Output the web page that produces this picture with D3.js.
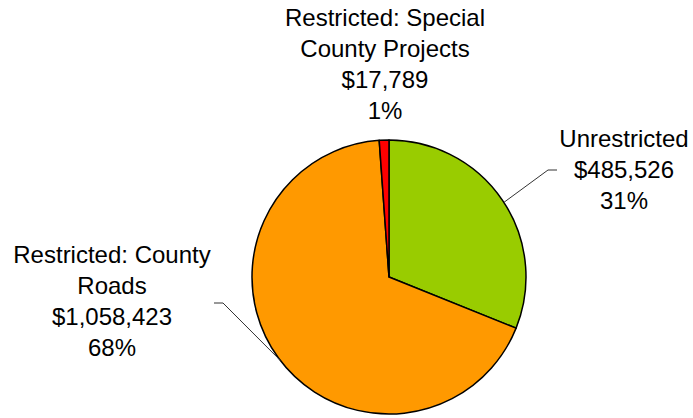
<!DOCTYPE html>
<html>
<head>
<meta charset="utf-8">
<script src="https://cdn.jsdelivr.net/npm/d3@7"></script>
<style>
  html, body { margin: 0; padding: 0; background: #fff; }
  svg text { font-family: "Liberation Sans", Arial, sans-serif; font-size: 24px; fill: #000; }
</style>
</head>
<body>
<svg id="chart" width="693" height="418"></svg>
<script>
// Fund sources, drawn clockwise from 12 o'clock
const categories = ["Unrestricted", "Restricted: County Roads", "Restricted: Special County Projects"];
const values = [485526, 1058423, 17789];
const colors = ["#99cc00", "#ff9900", "#ff0000"];
// Label text lines for each slice (name split across lines)
const labelNames = [["Unrestricted"], ["Restricted: County", "Roads"], ["Restricted: Special", "County Projects"]];

const svg = d3.select("#chart");
const cx = 389, cy = 277, r = 137;

const total = d3.sum(values);
const pie = d3.pie().sort(null).value(d => d)(values);
const arc = d3.arc().innerRadius(0).outerRadius(r);

const g = svg.append("g").attr("transform", `translate(${cx},${cy})`);
g.selectAll("path.slice")
  .data(pie)
  .join("path")
  .attr("class", "slice")
  .attr("d", arc)
  .attr("fill", (d, i) => colors[i])
  .attr("stroke", "#000")
  .attr("stroke-width", 1.5)
  .attr("stroke-linejoin", "round");

const fmt = d3.format("$,");
const pct = v => Math.round(v / total * 100) + "%";

// Label positions (centre x, first baseline); leaders start on the rim at
// `rim` degrees clockwise from 12 o'clock, bend at `elbow`, end at `end`
const labelPos = [
  { x: 624, y: 147, rim: 57, elbow: [548, 170], end: [557, 170] },
  { x: 112, y: 263, rim: 232.5, elbow: [223, 303], end: [214, 303] },
  { x: 385, y: 26, rim: null }
];
const lineH = 31;

pie.forEach((d, i) => {
  const p = labelPos[i];
  const lines = labelNames[i].concat([fmt(values[i]), pct(values[i])]);
  const t = svg.append("text").attr("text-anchor", "middle");
  lines.forEach((s, k) => {
    t.append("tspan").attr("x", p.x).attr("y", p.y + k * lineH).text(s);
  });
  if (p.rim !== null) {
    const a = p.rim * Math.PI / 180;
    const sx = cx + r * Math.sin(a), sy = cy - r * Math.cos(a);
    svg.append("polyline")
      .attr("points", [[sx, sy], p.elbow, p.end].map(q => q.join(",")).join(" "))
      .attr("fill", "none")
      .attr("stroke", "#333")
      .attr("stroke-width", 1);
  }
});
</script>
</body>
</html>
